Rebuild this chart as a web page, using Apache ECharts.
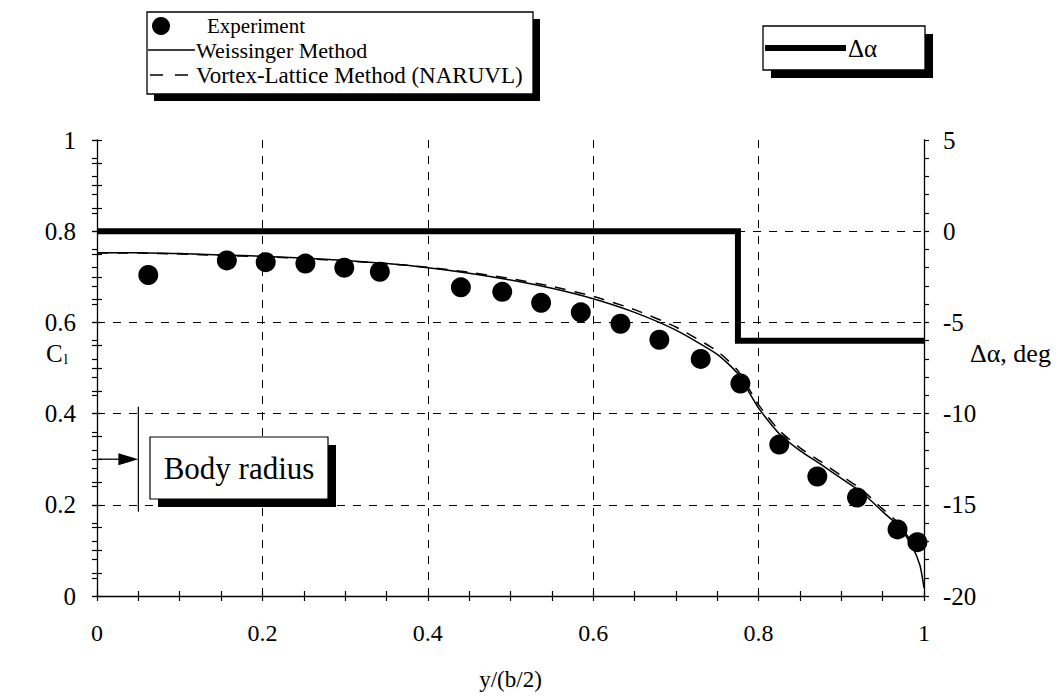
<!DOCTYPE html>
<html><head><meta charset="utf-8">
<script src="https://cdn.jsdelivr.net/npm/echarts@6/dist/echarts.min.js"></script>
<style>html,body{margin:0;padding:0;background:#fff}#c{width:1061px;height:696px}</style>
</head><body><div id="c"></div>
<script>
// ---- data ----
const expX  = [0.062,0.157,0.204,0.252,0.299,0.342,0.440,0.490,0.537,0.585,0.633,0.680,0.730,0.778,0.825,0.871,0.919,0.968,0.992];
const expCl = [0.704,0.736,0.732,0.729,0.720,0.711,0.677,0.667,0.643,0.622,0.597,0.562,0.520,0.466,0.332,0.262,0.216,0.146,0.118];

const weisX  = [0,0.05,0.1,0.15,0.2,0.25,0.3,0.35,0.4,0.45,0.5,0.55,0.6,0.65,0.7,0.75,0.775,0.8,0.825,0.85,0.875,0.9,0.925,0.95,0.97,0.985,0.995,1.0];
const weisCl = [0.753,0.753,0.751,0.748,0.745,0.741,0.736,0.729,0.720,0.708,0.693,0.675,0.652,0.622,0.583,0.530,0.487,0.412,0.356,0.319,0.289,0.258,0.227,0.185,0.152,0.111,0.068,0.018];

const vlmX  = [0,0.05,0.1,0.15,0.2,0.25,0.3,0.35,0.4,0.45,0.5,0.55,0.6,0.65,0.7,0.75,0.775,0.8,0.825,0.85,0.875,0.9,0.925,0.95,0.97,0.985,0.99];
const vlmCl = [0.752,0.752,0.750,0.747,0.744,0.740,0.735,0.729,0.721,0.710,0.696,0.679,0.657,0.628,0.590,0.537,0.494,0.419,0.363,0.325,0.295,0.264,0.233,0.191,0.158,0.118,0.100];

const daX = [0, 0.775, 0.775, 1];
const daDeg = [0, 0, -6, -6];

const bodyRadius = 0.05;
const xTicks = {min:0, max:1, interval:0.2, minor:0.05};
const clTicks = {min:0, max:1, interval:0.2, minor:0.05};
const daTicks = {min:-20, max:5, interval:5, minor:1};

const legendNames = ['Experiment','Weissinger Method','Vortex-Lattice Method (NARUVL)'];
const daLegend = 'Δα';

// ---- chart ----
const FONT = '"Liberation Serif", "DejaVu Serif", serif';
const chart = echarts.init(document.getElementById('c'), null, {renderer:'svg'});
const zip = (a,b) => a.map((v,i)=>[v,b[i]]);
const TL = 5;

function outerAxis(base, minorSplit, opts) {
  return Object.assign({
    type:'value', min:base.min, max:base.max, interval:base.interval,
    axisLine:{show:true, onZero:false, lineStyle:{color:'#000', width:1.3}},
    axisTick:{show:true, length:TL, inside:false, lineStyle:{color:'#000', width:1.2}},
    minorTick:{show:true, splitNumber:minorSplit, length:TL, lineStyle:{color:'#000', width:1.2}},
    splitLine:{show:false},
    minorSplitLine:{show:false}
  }, opts);
}
function innerAxis(base, pos) {
  return {
    type:'value', position:pos, min:base.min, max:base.max, interval:base.minor,
    axisLine:{show:false},
    axisTick:{show:true, length:TL, inside:true, lineStyle:{color:'#000', width:1.2}},
    axisLabel:{show:false}, splitLine:{show:false}, minorTick:{show:false}
  };
}
const lbl = (size, extra) => Object.assign({show:true, color:'#000', fontFamily:FONT, fontSize:size}, extra);
const gridLine = {show:true, showMaxLine:false, lineStyle:{color:'#000', width:1, type:[8,8]}};

const option = {
  animation:false,
  backgroundColor:'#fff',
  grid:{left:97, right:137, top:140, bottom:89, containLabel:false},
  xAxis:[
    outerAxis(xTicks, 4, {position:'bottom',
      axisLabel:lbl(24, {margin:25, formatter:v=>String(+v.toFixed(1))}),
      splitLine:gridLine,
      name:'y/(b/2)', nameLocation:'middle', nameGap:72, nameMoveOverlap:false,
      nameTextStyle:{color:'#000', fontFamily:FONT, fontSize:23}}),
    innerAxis(xTicks, 'bottom')
  ],
  yAxis:[
    outerAxis(clTicks, 4, {position:'left',
      axisLabel:lbl(25, {margin:21, formatter:v=>String(+v.toFixed(1))}),
      splitLine:gridLine,
      name:'{c|C}{s|l}', nameLocation:'middle', nameRotate:0, nameGap:40, nameMoveOverlap:false,
      nameTextStyle:{color:'#000', fontFamily:FONT, fontSize:25, align:'center', verticalAlign:'bottom', padding:[0,0,2,0],
        rich:{c:{fontFamily:FONT, fontSize:25, color:'#000'}, s:{fontFamily:FONT, fontSize:15, color:'#000', padding:[10,0,0,1]}}}}),
    outerAxis(daTicks, 5, {position:'right',
      axisLabel:lbl(25, {margin:19}),
      name:'Δα, deg', nameLocation:'middle', nameRotate:0, nameGap:46, nameMoveOverlap:false,
      nameTextStyle:{color:'#000', fontFamily:FONT, fontSize:26, align:'left', verticalAlign:'bottom', padding:[0,0,2,0]}}),
    innerAxis(clTicks, 'left'),
    innerAxis(daTicks, 'right')
  ],
  series:[
    {name:legendNames[0], type:'scatter', xAxisIndex:0, yAxisIndex:0, data:zip(expX,expCl),
      symbol:'circle', symbolSize:20, itemStyle:{color:'#000', opacity:1}, z:5},
    {name:legendNames[1], type:'line', xAxisIndex:0, yAxisIndex:0, data:zip(weisX,weisCl),
      showSymbol:false, smooth:0.2, lineStyle:{color:'#000', width:1.5}, z:4},
    {name:legendNames[2], type:'line', xAxisIndex:0, yAxisIndex:0, data:zip(vlmX,vlmCl),
      showSymbol:false, smooth:0.2, lineStyle:{color:'#000', width:1.5, type:[11,9]}, z:4},
    {name:daLegend, type:'line', xAxisIndex:0, yAxisIndex:1, data:zip(daX,daDeg),
      showSymbol:false, lineStyle:{color:'#000', width:6, cap:'butt', join:'miter'}, z:6}
  ]
};
chart.setOption(option);

// ---- annotations / legends ----
const brTop = chart.convertToPixel({xAxisIndex:0, yAxisIndex:0}, [bodyRadius, 0.415]);
const brBot = chart.convertToPixel({xAxisIndex:0, yAxisIndex:0}, [bodyRadius, 0.185]);
const arrY = chart.convertToPixel({yAxisIndex:0}, 0.30);
const axX = chart.convertToPixel({xAxisIndex:0}, 0);

const blk = '#000';
const gfx = [
  // legend box 1
  {type:'rect', shape:{x:154, y:19, width:386, height:82}, style:{fill:blk}, z:100},
  {type:'rect', shape:{x:147, y:12, width:386, height:82}, style:{fill:'#fff', stroke:blk, lineWidth:1.3}, z:101},
  {type:'circle', shape:{cx:161, cy:26, r:9}, style:{fill:blk}, z:102},
  {type:'text', x:207, y:26, style:{text:legendNames[0], fill:blk, font:'21px ' + FONT, verticalAlign:'middle'}, z:102},
  {type:'line', shape:{x1:148, y1:50, x2:195, y2:50}, style:{stroke:blk, lineWidth:1.3}, z:102},
  {type:'text', x:196, y:50, style:{text:legendNames[1], fill:blk, font:'22px ' + FONT, verticalAlign:'middle'}, z:102},
  {type:'line', shape:{x1:150, y1:75, x2:195, y2:75}, style:{stroke:blk, lineWidth:1.3, lineDash:[13,12]}, z:102},
  {type:'text', x:196, y:75, style:{text:legendNames[2], fill:blk, font:'23px ' + FONT, verticalAlign:'middle'}, z:102},
  // legend box 2
  {type:'rect', shape:{x:771, y:34, width:162, height:44}, style:{fill:blk}, z:100},
  {type:'rect', shape:{x:763, y:26, width:162, height:44}, style:{fill:'#fff', stroke:blk, lineWidth:1.3}, z:101},
  {type:'line', shape:{x1:765, y1:48, x2:846, y2:48}, style:{stroke:blk, lineWidth:6}, z:102},
  {type:'text', x:848, y:48, style:{text:daLegend, fill:blk, font:'25px ' + FONT, verticalAlign:'middle'}, z:102},
  // body radius marker
  {type:'line', shape:{x1:brTop[0], y1:brTop[1], x2:brBot[0], y2:brBot[1]}, style:{stroke:blk, lineWidth:1.2}, z:50},
  {type:'line', shape:{x1:axX, y1:arrY, x2:brTop[0]-18, y2:arrY}, style:{stroke:blk, lineWidth:1.3}, z:50},
  {type:'polygon', shape:{points:[[brTop[0]-20, arrY-6],[brTop[0], arrY],[brTop[0]-20, arrY+6]]}, style:{fill:blk}, z:50},
  {type:'rect', shape:{x:158, y:445, width:178, height:62}, style:{fill:blk}, z:100},
  {type:'rect', shape:{x:150, y:437, width:178, height:62}, style:{fill:'#fff', stroke:blk, lineWidth:1.2}, z:101},
  {type:'text', x:239, y:468, style:{text:'Body radius', fill:blk, font:'31px ' + FONT, align:'center', verticalAlign:'middle'}, z:102}
];
chart.setOption({graphic:gfx});
</script>
</body></html>
